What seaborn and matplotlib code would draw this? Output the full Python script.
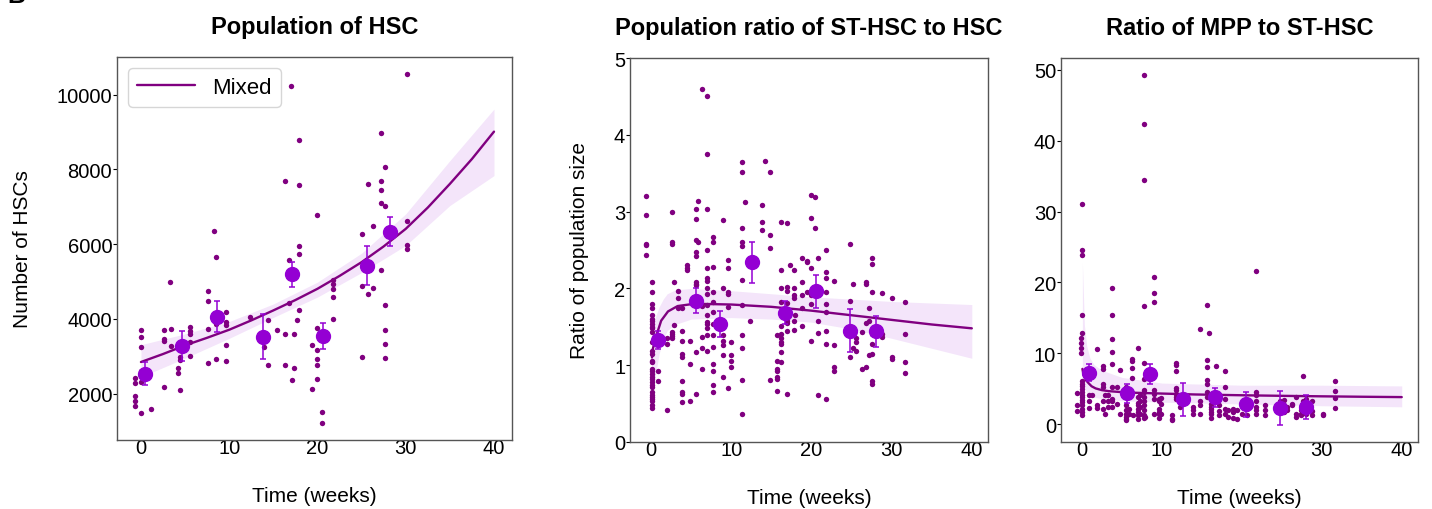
import numpy as np
import pandas as pd
import seaborn as sns
import matplotlib
matplotlib.use("Agg")
import matplotlib.pyplot as plt

# ---- data ----
# Panel 1: HSC numbers, grouped by (time, values)
hsc_groups = [
    (-0.68, [2428, 2285, 1938, 1795, 1661]),
    (0.0, [3710, 3506, 3238, 2597, 2463, 2312, 1483]),
    (1.1, [1600]),
    (2.6, [3710, 3452, 3400, 2178]),
    (3.3, [4993]),
    (3.45, [3737, 3265]),
    (4.2, [2695, 2552]),
    (4.4, [2980, 2890, 2089]),
    (5.6, [3782, 3666, 3586, 3381, 3016]),
    (7.6, [4753, 4477, 3737, 2820]),
    (8.3, [6365]),
    (8.55, [5662, 3871, 2935]),
    (9.6, [4192, 3915, 3826, 3310, 2864]),
    (12.3, [4040]),
    (13.9, [3470, 3247]),
    (14.45, [3960, 2757]),
    (15.4, [3692]),
    (16.3, [7702, 3586, 2757]),
    (16.8, [5582, 4423]),
    (16.95, [10240]),
    (17.1, [2374]),
    (17.35, [3586, 2686]),
    (17.7, [3960]),
    (17.86, [8800, 7586, 5964, 5742, 4245]),
    (19.4, [3300, 2134]),
    (19.9, [6784, 3764, 3158, 2935, 2757, 2383]),
    (20.5, [1510, 1225]),
    (21.8, [5053, 4930, 4790, 4592, 3996]),
    (25.1, [6275, 4894, 2980]),
    (25.7, [7613, 4673]),
    (26.3, [6480, 4824]),
    (27.2, [8980, 7702, 7452, 7096, 5296]),
    (27.7, [8076, 7034, 4379, 3692, 3318, 2953]),
    (30.1, [10544, 6624, 5991, 5875]),
]
hsc_mean_t = [0.45, 4.6, 8.66, 13.8, 17.1, 20.6, 25.65, 28.2]
hsc_mean = [2535, 3283, 4058, 3523, 5189, 3541, 5421, 6330]
hsc_err = [310, 400, 420, 600, 330, 355, 517, 388]
hsc_fit_t = [0, 2.5, 5, 7.5, 10, 12.5, 15, 17.5, 20, 22.5, 25, 27.5, 30, 32.5, 35, 37.5, 40]
hsc_fit = [2846, 3060, 3292, 3495, 3710, 3960, 4227, 4505, 4806, 5150, 5519, 5940, 6410, 6980, 7613, 8280, 9012]
hsc_band_t = [0, 5, 10, 15, 20, 25, 30, 35, 40]
hsc_band_hi = [3310, 3600, 3930, 4400, 4985, 5760, 6811, 8236, 9617]
hsc_band_lo = [2445, 2950, 3480, 4040, 4584, 5240, 5964, 7034, 7835]

# Panel 2: ST-HSC / HSC ratio
st_groups = [
    (-0.6, [3.20, 2.96, 2.58, 2.56, 2.44]),
    (0.05, [2.08, 1.95, 1.80, 1.74, 1.65, 1.60, 1.58, 1.54, 1.50, 1.48, 1.43, 1.30,
            1.19, 1.15, 1.06, 1.04, 0.95, 0.93, 0.89, 0.85, 0.82, 0.78, 0.74, 0.72,
            0.65, 0.61, 0.59, 0.56, 0.54, 0.48, 0.44]),
    (0.9, [0.92, 0.79]),
    (1.96, [0.42, 1.36, 1.28]),
    (2.6, [3.00, 2.60, 2.58, 1.43, 1.41, 1.38, 1.35]),
    (2.9, [2.08, 1.52]),
    (3.4, [1.97, 1.88, 1.74]),
    (3.8, [1.45, 1.32, 1.15, 1.11, 0.80, 0.65, 0.63, 0.52]),
    (3.9, [1.74]),
    (4.5, [2.31, 2.26, 2.24]),
    (4.8, [1.32, 1.01, 0.53]),
    (5.6, [3.03, 2.91, 2.63, 2.47, 2.42, 2.08, 2.06, 2.04, 1.17, 0.63]),
    (5.8, [3.14, 2.61]),
    (6.3, [4.60, 1.77, 1.37, 1.22, 0.95]),
    (7.0, [4.50, 3.75, 3.03, 2.50, 2.26, 2.13, 2.10, 2.00, 1.93, 1.79, 1.65, 1.56,
           1.54, 1.48, 1.39, 1.19]),
    (7.7, [2.67, 2.60, 2.28, 1.95, 1.82, 1.69, 1.53, 1.39, 1.24, 1.02, 0.93, 0.74, 0.65]),
    (9.0, [2.89, 2.00, 1.39, 1.32, 1.26, 1.13, 0.85]),
    (9.6, [2.37, 2.26, 1.95, 1.93, 1.76, 0.70]),
    (9.9, [1.30, 1.13, 1.06, 0.98]),
    (11.3, [3.65, 3.51, 2.78, 2.61, 2.55, 2.11, 1.78, 1.39, 1.22, 0.81, 0.36]),
    (11.7, [3.13]),
    (12.3, [1.58]),
    (13.8, [2.86, 2.76, 3.09]),
    (14.2, [3.66]),
    (14.8, [3.52, 2.69, 2.53, 0.81]),
    (15.75, [1.39, 1.06, 0.95, 0.93, 0.85, 0.82, 0.67]),
    (16.25, [2.86, 2.24, 2.00, 1.82, 1.69, 1.51, 1.40, 1.35, 1.30, 1.28, 1.17, 1.04]),
    (16.9, [2.85, 2.02, 1.96, 1.81, 1.57, 1.55, 1.44, 0.63]),
    (17.3, [2.31]),
    (17.8, [2.24, 2.01, 1.91, 1.87, 1.57, 1.46]),
    (18.0, [1.65]),
    (18.8, [2.39, 2.08, 1.91, 1.74, 1.51]),
    (19.4, [2.36, 2.34, 1.95]),
    (19.9, [3.22, 2.92, 2.26, 1.91, 1.80, 1.31]),
    (20.5, [3.19, 2.79]),
    (20.8, [2.40, 1.57, 1.42, 0.61]),
    (21.8, [2.50, 2.21, 2.14, 1.95, 1.80, 1.69, 1.44, 1.28, 0.56]),
    (22.8, [2.10, 1.26, 0.98, 0.93]),
    (24.8, [2.58, 1.84, 1.11]),
    (25.2, [2.06, 1.22]),
    (25.6, [1.35, 1.30, 1.19]),
    (26.25, [1.43, 0.95]),
    (26.8, [2.08, 2.06, 1.55, 0.98]),
    (27.2, [1.74, 1.57, 1.13]),
    (27.6, [2.39, 2.32, 1.95, 1.40, 1.27, 1.15, 0.79, 0.75]),
    (28.75, [1.94, 1.40, 1.37]),
    (30.0, [1.87, 1.11, 1.08]),
    (31.7, [1.82, 1.40, 1.04, 0.90]),
]
st_mean_t = [0.83, 5.6, 8.6, 12.6, 16.7, 20.6, 24.8, 28.0]
st_mean = [1.33, 1.84, 1.54, 2.34, 1.68, 1.96, 1.45, 1.44]
st_err = [0.12, 0.16, 0.17, 0.27, 0.15, 0.21, 0.28, 0.20]
st_fit_t = [0.1, 0.2, 0.63, 1.25, 2.1, 3.3, 5.4, 10, 15, 20, 25, 30, 35, 40]
st_fit = [1.10, 1.21, 1.38, 1.58, 1.70, 1.77, 1.80, 1.79, 1.76, 1.71, 1.65, 1.59, 1.53, 1.48]
st_band_t = [0.1, 0.5, 1, 1.5, 2, 3, 5, 10, 15, 20, 25, 30, 35, 40]
st_band_hi = [1.45, 1.62, 1.76, 1.86, 1.93, 1.98, 2.00, 1.97, 1.93, 1.89, 1.86, 1.83, 1.81, 1.79]
st_band_lo = [0.62, 0.85, 1.15, 1.33, 1.45, 1.53, 1.60, 1.62, 1.60, 1.56, 1.47, 1.35, 1.22, 1.09]

# Panel 3: MPP / ST-HSC ratio
mpp_groups = [
    (-0.6, [4.4, 2.7, 1.8]),
    (-0.1, [12.1, 11.4, 10.7, 10.1]),
    (0.0, [31.1, 24.6, 23.8, 15.4, 12.8, 6.1, 5.7, 5.4, 5.0, 4.6, 4.1, 3.9, 3.4,
           3.1, 2.7, 2.2, 1.7, 1.3]),
    (0.9, [4.1, 3.2, 2.3]),
    (1.25, [4.1]),
    (1.9, [10.6, 2.7, 2.3]),
    (2.6, [8.2, 7.8, 5.6, 5.3, 3.2, 2.2]),
    (2.9, [4.1, 1.5]),
    (3.3, [4.1, 3.2, 2.4]),
    (3.75, [19.2, 15.4, 12.0, 10.2, 8.5, 5.3, 3.6, 3.2, 2.4]),
    (4.4, [5.3, 2.9]),
    (4.8, [7.7, 1.5]),
    (5.55, [5.3, 3.9, 2.7, 2.0, 1.5, 1.0, 0.8, 0.56]),
    (5.85, [4.1, 2.2, 1.4]),
    (6.3, [9.2, 8.9, 7.9, 6.5]),
    (6.4, [1.3]),
    (7.0, [10.8, 3.9, 3.0, 2.7, 2.2, 1.7, 1.3, 0.8]),
    (7.3, [4.1, 3.2, 2.4, 1.5]),
    (7.7, [49.2, 42.3, 34.4, 16.7, 8.7, 6.4, 4.8, 4.6, 3.9, 3.2, 2.7, 2.0, 1.3, 0.9]),
    (7.9, [1.0]),
    (9.0, [20.7, 18.5, 17.2, 4.8, 4.3, 3.6, 1.5]),
    (9.6, [3.6, 3.2, 2.2, 1.7, 1.5, 0.9]),
    (9.9, [3.7, 2.9, 1.4]),
    (11.3, [1.3, 0.8, 0.56]),
    (11.7, [8.6, 8.3, 7.5, 5.1, 4.8, 4.3, 3.9, 3.6]),
    (12.3, [2.4]),
    (13.9, [2.4, 2.0, 1.4]),
    (14.8, [13.4, 3.2, 2.7, 1.4]),
    (15.7, [16.8, 9.0, 8.1, 6.2, 5.7, 4.6, 3.9]),
    (15.9, [12.8]),
    (16.2, [3.6, 2.9, 2.4, 2.1, 1.7, 1.4, 0.9]),
    (16.8, [8.2]),
    (17.1, [2.7, 1.8, 1.3]),
    (17.9, [7.5, 5.3, 3.6, 2.2, 1.5]),
    (18.3, [2.0, 1.0]),
    (18.9, [2.2, 1.7, 0.9]),
    (19.4, [2.0, 0.7]),
    (20.0, [2.7, 1.5]),
    (20.7, [2.2, 1.3]),
    (21.8, [21.6, 4.6, 4.1, 3.2, 2.4, 2.0, 1.5]),
    (22.9, [2.7, 2.0, 1.3]),
    (24.8, [3.2, 2.4]),
    (25.3, [3.4, 2.7, 1.7]),
    (25.7, [2.4, 2.0]),
    (26.3, [2.9, 2.7]),
    (26.8, [3.8, 1.5, 1.0]),
    (27.35, [2.0, 1.5, 1.3]),
    (27.7, [6.8, 3.2, 2.7, 2.2, 1.7]),
    (28.0, [3.6, 1.5]),
    (28.8, [3.2, 1.8, 1.3]),
    (30.1, [1.5, 1.3]),
    (31.7, [6.1, 4.7, 3.7, 2.3]),
]
mpp_mean_t = [0.83, 5.6, 8.56, 12.6, 16.7, 20.5, 24.8, 28.05]
mpp_mean = [7.25, 4.33, 7.06, 3.5, 3.77, 2.78, 2.3, 2.45]
mpp_err = [1.2, 1.3, 1.45, 2.3, 1.35, 1.75, 2.35, 1.7]
mpp_fit_t = [0.05, 0.2, 0.5, 0.85, 1.2, 1.7, 2.5, 3.35, 5, 6.7, 10, 14.2, 20, 25, 30, 35, 40]
mpp_fit = [7.8, 6.9, 6.2, 5.75, 5.35, 5.05, 4.8, 4.66, 4.52, 4.43, 4.32, 4.19, 4.08, 4.0, 3.93, 3.87, 3.82]
mpp_band_t = [0.05, 0.3, 0.6, 1, 1.5, 2.5, 5, 10, 20, 30, 40]
mpp_band_hi = [22.9, 14.0, 11.0, 9.3, 8.4, 7.6, 6.6, 5.8, 5.5, 5.5, 5.4]
mpp_band_lo = [6.4, 5.2, 4.5, 4.1, 3.8, 3.6, 3.3, 3.1, 2.85, 2.6, 2.45]


def to_frame(groups):
    rows = [(t, v) for t, vals in groups for v in vals]
    return pd.DataFrame(rows, columns=["t", "v"])


sns.set_style("white")
plt.rcParams["font.family"] = ["Liberation Sans", "DejaVu Sans"]
plt.rcParams["text.color"] = "black"
plt.rcParams["axes.labelcolor"] = "black"
plt.rcParams["xtick.color"] = "black"
plt.rcParams["ytick.color"] = "black"

fig = plt.figure(figsize=(14.32, 5.10), dpi=100)
axes = [
    fig.add_axes([0.0817, 0.1353, 0.2758, 0.751]),
    fig.add_axes([0.440, 0.1314, 0.250, 0.7529]),
    fig.add_axes([0.7409, 0.1314, 0.2493, 0.7529]),
]

panels = [
    (hsc_groups, hsc_mean_t, hsc_mean, hsc_err, hsc_fit_t, hsc_fit,
     hsc_band_t, hsc_band_lo, hsc_band_hi, "Population of HSC", "Number of HSCs"),
    (st_groups, st_mean_t, st_mean, st_err, st_fit_t, st_fit,
     st_band_t, st_band_lo, st_band_hi, "Population ratio of ST-HSC to HSC", "Ratio of population size"),
    (mpp_groups, mpp_mean_t, mpp_mean, mpp_err, mpp_fit_t, mpp_fit,
     mpp_band_t, mpp_band_lo, mpp_band_hi, "Ratio of MPP to ST-HSC", None),
]

for ax, (groups, mt, mv, me, ft, fv, bt, blo, bhi, title, ylabel) in zip(axes, panels):
    df = to_frame(groups)
    ax.fill_between(bt, blo, bhi, color="#9400D3", alpha=0.1, linewidth=0, zorder=1)
    sns.scatterplot(data=df, x="t", y="v", ax=ax, color="purple", s=15,
                    linewidth=0, zorder=2)
    sns.lineplot(x=ft, y=fv, ax=ax, color="purple", linewidth=1.7, zorder=3,
                 label="Mixed", legend=False)
    ax.errorbar(mt, mv, yerr=me, fmt="o", color="darkviolet", markersize=10,
                elinewidth=1.1, capsize=2.5, capthick=1.1, zorder=4)
    ax.set_title(title, fontsize=17, fontweight="bold", pad=17)
    ax.set_xlabel("Time (weeks)", fontsize=15, labelpad=21)
    if ylabel:
        ax.set_ylabel(ylabel, fontsize=15, labelpad=18)
    else:
        ax.set_ylabel("")
    ax.set_xticks([0, 10, 20, 30, 40])
    ax.tick_params(axis="x", labelsize=14.5, length=0, pad=-1.5, bottom=True)
    ax.tick_params(axis="y", labelsize=14.5, length=3, width=0.8,
                   direction="out", left=True, pad=0.5)
    for sp in ax.spines.values():
        sp.set_color("#555555")
        sp.set_linewidth(1.0)

axes[0].set_yticks([2000, 4000, 6000, 8000, 10000])
axes[1].set_ylim(0, 5)
axes[1].set_yticks([0, 1, 2, 3, 4, 5])
axes[2].set_yticks([0, 10, 20, 30, 40, 50])

handles, labels = axes[0].get_legend_handles_labels()
axes[0].legend(handles[:1], labels[:1], loc="upper left", fontsize=16,
               handlelength=2.6, frameon=True, fancybox=True, borderpad=0.4)

# panel letter, cut off by the top edge as in the source figure
fig.text(0.005, 0.994, "B", fontsize=18, fontweight="bold", va="baseline")

fig.savefig("out.png", dpi=100)
